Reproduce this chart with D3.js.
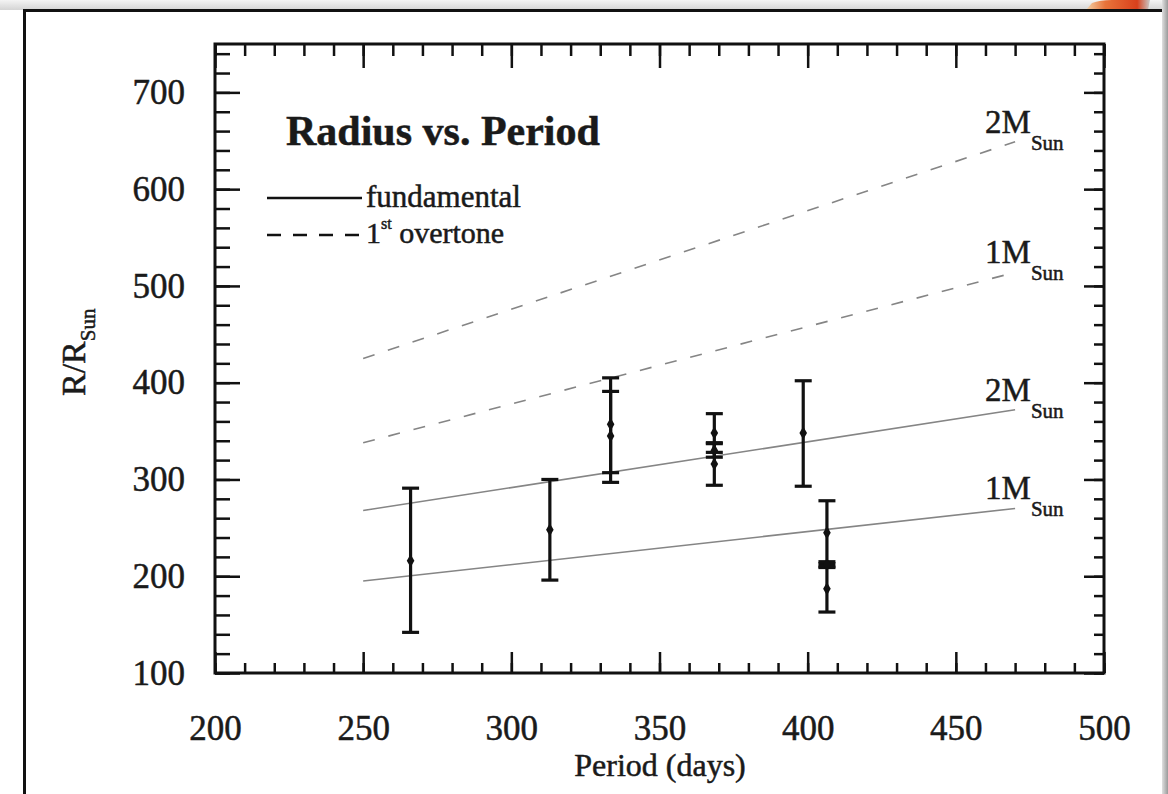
<!DOCTYPE html>
<html>
<head>
<meta charset="utf-8">
<script src="https://cdn.jsdelivr.net/npm/d3@7"></script>
<style>
  body { margin: 0; background: #fff; }
  svg { display: block; }
  text { font-family: "Liberation Serif", "Times New Roman", serif; fill: #1a1a1a; stroke: #1a1a1a; stroke-width: 0.5; }
</style>
</head>
<body>
<div id="chart"></div>
<script>
// Radius vs. Period — Mira radii against model lines

const xMajor = [200, 250, 300, 350, 400, 450, 500];
const yMajor = [100, 200, 300, 400, 500, 600, 700];

// model lines (two end points each, period in days)
const modelPeriod = [250, 470];
const fund1M = [195, 270];
const fund2M = [268, 372];
const over1M = [338, 514];
const over2M = [425, 649];

// measured radii with error bars
const obsPeriod = [266, 313, 333.5, 333.5, 368.5, 368.5, 368.5, 398.5, 406.5, 406.5, 406.5];
const obsRadius = [216, 248, 357, 345, 348, 330, 316, 348, 245, 212, 187];
const obsLow    = [142, 196, 297, 307, 328, 323, 294, 293, 213, 209, 163];
const obsHigh   = [291, 300, 405, 391, 368, 337, 338, 402, 278, 215, 210];

(function () {
    const W = 1168, H = 794;
    const svg = d3.select('#chart').append('svg').attr('width', W).attr('height', H);
    const defs = svg.append('defs');

    // page frame around the figure (slide look)
    const g1 = defs.append('linearGradient').attr('id', 'topShade').attr('x1', 0).attr('y1', 0).attr('x2', 0).attr('y2', 1);
    g1.append('stop').attr('offset', 0).attr('stop-color', '#f4f4f4');
    g1.append('stop').attr('offset', 1).attr('stop-color', '#d4d4d4');
    const g2 = defs.append('linearGradient').attr('id', 'sideShade').attr('x1', 0).attr('y1', 0).attr('x2', 1).attr('y2', 0);
    g2.append('stop').attr('offset', 0).attr('stop-color', '#e0e0e0');
    g2.append('stop').attr('offset', 1).attr('stop-color', '#9a9a9a');
    const g3 = defs.append('linearGradient').attr('id', 'curl').attr('x1', 0).attr('y1', 0).attr('x2', 1).attr('y2', 0);
    g3.append('stop').attr('offset', 0).attr('stop-color', '#f3d2a8');
    g3.append('stop').attr('offset', 0.3).attr('stop-color', '#e9743a');
    g3.append('stop').attr('offset', 0.8).attr('stop-color', '#d8401c');
    g3.append('stop').attr('offset', 1).attr('stop-color', '#c9c9c9');

    svg.append('rect').attr('x', 0).attr('y', 0).attr('width', W).attr('height', 10).attr('fill', 'url(#topShade)');
    svg.append('rect').attr('x', 1162).attr('y', 0).attr('width', 6).attr('height', H).attr('fill', 'url(#sideShade)');
    svg.append('path').attr('d', 'M1086,10 L1092,3 Q1100,0 1112,0 L1150,0 L1148,10 Z').attr('fill', 'url(#curl)');
    svg.append('path').attr('d', 'M24.5,' + H + ' L24.5,10.5 L1162,10.5')
        .attr('fill', 'none').attr('stroke', '#111').attr('stroke-width', 3);

    const x = d3.scaleLinear().domain([200, 500]).range([215, 1104]);
    const y = d3.scaleLinear().domain([100, 750]).range([673, 44]);

    const tickStroke = sel => {
        sel.select('.domain').remove();
        sel.selectAll('line').attr('stroke', '#111').attr('stroke-width', 2.5);
        sel.selectAll('text').attr('font-family', '"Liberation Serif", serif').attr('fill', '#1a1a1a');
    };

    const xMinor = d3.range(200, 501, 10);
    const yMinor = d3.range(100, 750, 20);

    // bottom
    svg.append('g').attr('transform', 'translate(0,673)')
        .call(d3.axisBottom(x).tickValues(xMinor).tickSize(-10).tickFormat(''))
        .call(tickStroke);
    svg.append('g').attr('transform', 'translate(0,673)')
        .call(d3.axisBottom(x).tickValues(xMajor).tickSize(-21).tickPadding(42).tickFormat(d3.format('d')))
        .call(tickStroke)
        .selectAll('text').attr('font-size', 35);
    // top
    svg.append('g').attr('transform', 'translate(0,44)')
        .call(d3.axisTop(x).tickValues(xMinor).tickSize(-12).tickFormat(''))
        .call(tickStroke);
    svg.append('g').attr('transform', 'translate(0,44)')
        .call(d3.axisTop(x).tickValues(xMajor).tickSize(-24).tickFormat(''))
        .call(tickStroke);
    // left
    svg.append('g').attr('transform', 'translate(215,0)')
        .call(d3.axisLeft(y).tickValues(yMinor).tickSize(-15).tickFormat(''))
        .call(tickStroke);
    svg.append('g').attr('transform', 'translate(215,0)')
        .call(d3.axisLeft(y).tickValues(yMajor).tickSize(-25).tickPadding(30).tickFormat(d3.format('d')))
        .call(tickStroke)
        .selectAll('text').attr('font-size', 35);
    // right
    svg.append('g').attr('transform', 'translate(1104,0)')
        .call(d3.axisRight(y).tickValues(yMinor).tickSize(-10).tickFormat(''))
        .call(tickStroke);
    svg.append('g').attr('transform', 'translate(1104,0)')
        .call(d3.axisRight(y).tickValues(yMajor).tickSize(-20).tickFormat(''))
        .call(tickStroke);

    svg.append('rect').attr('x', 215).attr('y', 44).attr('width', 1104 - 215).attr('height', 673 - 44)
        .attr('fill', 'none').attr('stroke', '#111').attr('stroke-width', 3);

    // axis titles
    svg.append('text').attr('x', 660).attr('y', 776).attr('text-anchor', 'middle')
        .attr('font-size', 32).text('Period (days)');
    const yt = svg.append('text').attr('transform', 'translate(85,396) rotate(-90)').attr('font-size', 34);
    yt.append('tspan').text('R/R');
    yt.append('tspan').attr('font-size', 21).attr('dy', 10).text('Sun');

    // model lines
    const models = [
        { mass: '2M', dashed: true, vals: over2M },
        { mass: '1M', dashed: true, vals: over1M },
        { mass: '2M', dashed: false, vals: fund2M },
        { mass: '1M', dashed: false, vals: fund1M }
    ];
    const line = d3.line().x(d => x(d[0])).y(d => y(d[1]));
    models.forEach(m => {
        const pts = modelPeriod.map((p, i) => [p, m.vals[i]]);
        svg.append('path').attr('d', line(pts)).attr('fill', 'none')
            .attr('stroke', '#858585').attr('stroke-width', 1.6)
            .attr('stroke-dasharray', m.dashed ? '12,14' : null);
        const last = pts[pts.length - 1];
        const t = svg.append('text').attr('x', x(last[0]) - 30).attr('y', y(last[1]) - 9).attr('font-size', 33);
        t.append('tspan').text(m.mass);
        t.append('tspan').attr('font-size', 21).attr('dy', 17).text('Sun');
    });

    // error bars
    const obs = obsPeriod.map((p, i) => ({ p, r: obsRadius[i], lo: obsLow[i], hi: obsHigh[i] }));
    const eb = svg.append('g').attr('stroke', '#111').attr('stroke-width', 3.2);
    const capW = 8.5;
    obs.forEach(d => {
        eb.append('line').attr('x1', x(d.p)).attr('x2', x(d.p)).attr('y1', y(d.lo)).attr('y2', y(d.hi));
        [d.lo, d.hi].forEach(v => {
            eb.append('line').attr('x1', x(d.p) - capW).attr('x2', x(d.p) + capW).attr('y1', y(v)).attr('y2', y(v));
        });
    });
    svg.append('g').selectAll('path').data(obs).enter().append('path')
        .attr('d', d3.symbol().type(d3.symbolDiamond).size(50))
        .attr('transform', d => `translate(${x(d.p)},${y(d.r)})`)
        .attr('fill', '#111');

    // title and legend
    svg.append('text').attr('x', 286).attr('y', 145).attr('font-size', 42).attr('font-weight', 'bold')
        .text('Radius vs. Period');

    const leg = svg.append('g');
    leg.append('line').attr('x1', 267).attr('x2', 362).attr('y1', 198).attr('y2', 198)
        .attr('stroke', '#111').attr('stroke-width', 2.5);
    leg.append('text').attr('x', 366).attr('y', 207).attr('font-size', 31).text('fundamental');
    leg.append('line').attr('x1', 267).attr('x2', 362).attr('y1', 235).attr('y2', 235)
        .attr('stroke', '#111').attr('stroke-width', 2.5).attr('stroke-dasharray', '14,12');
    const l2 = leg.append('text').attr('x', 366).attr('y', 243).attr('font-size', 30);
    l2.append('tspan').text('1');
    l2.append('tspan').attr('font-size', 16).attr('dy', -14).text('st');
    l2.append('tspan').attr('dy', 14).text(' overtone');
})();
</script>
</body>
</html>
